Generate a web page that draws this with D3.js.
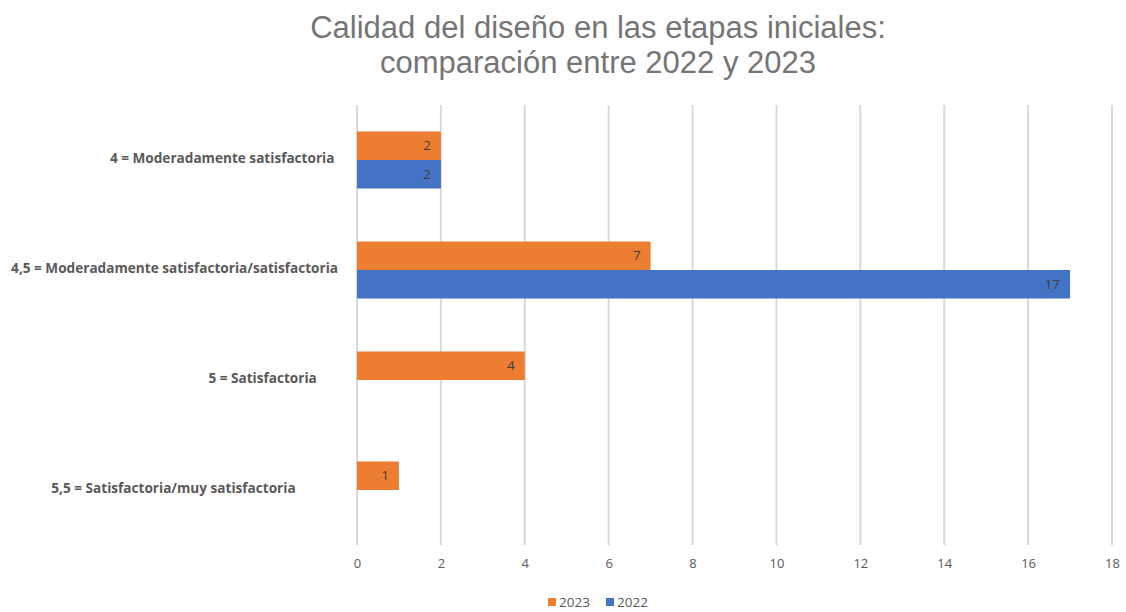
<!DOCTYPE html>
<html>
<head>
<meta charset="utf-8">
<script src="https://cdn.jsdelivr.net/npm/d3@7"></script>
<style>
  body { margin: 0; background: #fff; }
  svg text { font-family: "Open Sans", "Liberation Sans", sans-serif; }
  svg text.title { font-family: "Liberation Sans", Arial, sans-serif; }
</style>
</head>
<body>
<div id="chart"></div>
<script>
var categories = [
  "4 = Moderadamente satisfactoria",
  "4,5 = Moderadamente satisfactoria/satisfactoria",
  "5 = Satisfactoria",
  "5,5 = Satisfactoria/muy satisfactoria"
];
var labelPad = [" ", "", "      ", "            "]; // trailing spaces after each label
var seriesNames = ["2023", "2022"];
var values2023 = [2, 7, 4, 1];
var values2022 = [2, 17, null, null];
var xTicks = [0, 2, 4, 6, 8, 10, 12, 14, 16, 18];
var titleLines = ["Calidad del diseño en las etapas iniciales:", "comparación entre 2022 y 2023"];

var width = 1126, height = 612;
var margin = {top: 105, right: 14, bottom: 67, left: 357};
var colors = {"2023": "#ED7D31", "2022": "#4472C4"};

var rows = categories.map(function (c, i) {
  return {cat: c, "2023": values2023[i], "2022": values2022[i]};
});

var svg = d3.select("#chart").append("svg")
  .attr("width", width)
  .attr("height", height);

var x = d3.scaleLinear().domain([0, 18]).range([margin.left, width - margin.right]);
var y = d3.scaleBand().domain(categories).range([margin.top, height - margin.bottom]);
var y1 = d3.scaleBand().domain(seriesNames).range([0, y.bandwidth()]).paddingOuter(0.93);

// title
svg.selectAll(".title").data(titleLines).enter().append("text")
  .attr("class", "title")
  .attr("x", 598)
  .attr("y", function (d, i) { return 38 + i * 35; })
  .attr("text-anchor", "middle")
  .attr("fill", "#757575")
  .style("font-size", "31px")
  .text(function (d) { return d; });

// gridlines
svg.append("g").selectAll("line").data(xTicks).enter().append("line")
  .attr("x1", function (d) { return x(d); })
  .attr("x2", function (d) { return x(d); })
  .attr("y1", margin.top)
  .attr("y2", height - margin.bottom)
  .attr("stroke", "#d9d9d9")
  .attr("stroke-width", 2);

// x axis
var xAxis = svg.append("g")
  .attr("transform", "translate(0," + (height - margin.bottom) + ")")
  .call(d3.axisBottom(x).tickValues(xTicks).tickSize(0).tickPadding(14));
xAxis.select(".domain").remove();
xAxis.selectAll("text").attr("fill", "#595959").style("font-size", "13px");

// y labels
svg.append("g").selectAll("text").data(categories).enter().append("text")
  .attr("x", 338)
  .attr("y", function (d) { return y(d) + y.bandwidth() / 2 - 2; })
  .attr("dy", "0.35em")
  .attr("text-anchor", "end")
  .attr("fill", "#595959")
  .style("font-size", "13.6px")
  .style("font-weight", "bold")
  .style("white-space", "pre")
  .text(function (d, i) { return d + labelPad[i]; });

// bars
var groups = svg.append("g").selectAll("g").data(rows).enter().append("g")
  .attr("transform", function (d) { return "translate(0," + y(d.cat) + ")"; });

var bars = groups.selectAll("g").data(function (d) {
  return seriesNames.filter(function (s) { return d[s] != null; })
    .map(function (s) { return {key: s, value: d[s]}; });
}).enter().append("g");

bars.append("rect")
  .attr("x", x(0))
  .attr("y", function (d) { return y1(d.key); })
  .attr("width", function (d) { return x(d.value) - x(0); })
  .attr("height", y1.bandwidth())
  .attr("fill", function (d) { return colors[d.key]; });

bars.append("text")
  .attr("x", function (d) { return x(d.value) - 10; })
  .attr("y", function (d) { return y1(d.key) + y1.bandwidth() / 2; })
  .attr("dy", "0.35em")
  .attr("text-anchor", "end")
  .attr("fill", "#404040")
  .style("font-size", "13.5px")
  .text(function (d) { return d.value; });

// legend
var legend = svg.append("g").attr("transform", "translate(548,602)");
var item = legend.selectAll("g").data(seriesNames).enter().append("g")
  .attr("transform", function (d, i) { return "translate(" + (i * 58) + ",0)"; });
item.append("rect")
  .attr("x", 0).attr("y", -4)
  .attr("width", 8).attr("height", 8)
  .attr("fill", function (d) { return colors[d]; });
item.append("text")
  .attr("x", 11).attr("y", 0)
  .attr("dy", "0.35em")
  .attr("fill", "#595959")
  .style("font-size", "13.5px")
  .text(function (d) { return d; });
</script>
</body>
</html>
